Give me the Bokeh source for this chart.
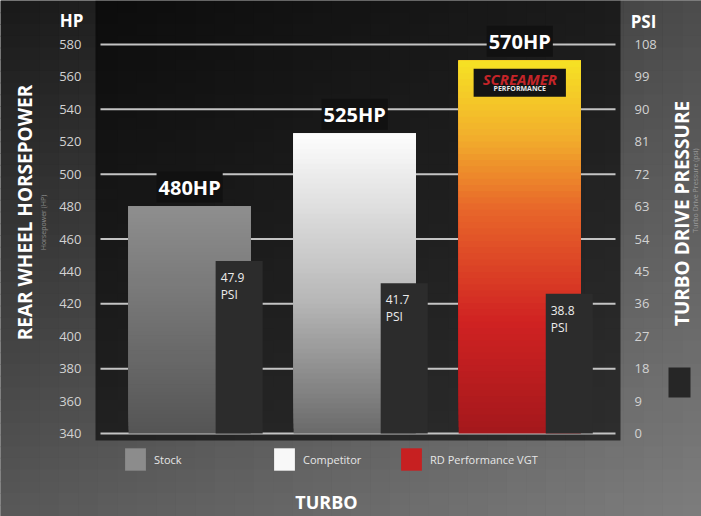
import numpy as np
from bokeh.plotting import figure
from bokeh.models import (Range1d, LinearAxis, FixedTicker, ColumnDataSource, BoxAnnotation,
                          Label, Legend, LegendItem)
from bokeh.core.properties import value
from bokeh.embed import file_html
from bokeh.resources import INLINE

# ---------------- data ----------------
categories = ["Stock", "Competitor", "RD Performance VGT"]
hp_values = [480, 525, 570]
psi_values = [47.9, 41.7, 38.8]
hp_ticks = [340, 360, 380, 400, 420, 440, 460, 480, 500, 520, 540, 560, 580]
psi_ticks = [0, 9, 18, 27, 36, 45, 54, 63, 72, 81, 90, 99, 108]
hp_grid_ticks = [340, 380, 420, 460, 500, 540, 580]

# ---------------- layout / style ----------------
W, H = 701, 516
# chart panel edges in canvas pixels
PL, PR, PT, PB = 100, 615, 44, 433
X_LO, X_HI = -0.54, 2.58           # x data at panel left / right
HP_LO, HP_HI = hp_ticks[0], hp_ticks[-1]
PSI_LO, PSI_HI = psi_ticks[0], psi_ticks[-1]
HP_W = 0.74
PSI_OFF = 0.30
PSI_W = 0.285
FONT = value("Open Sans")

# extend ranges so the frame covers the whole canvas
xs = (X_HI - X_LO) / (PR - PL)
x_range = Range1d(X_LO - PL * xs, X_HI + (W - PR) * xs)
hs = (HP_HI - HP_LO) / (PB - PT)
y_range = Range1d(HP_LO - (H - PB) * hs, HP_HI + PT * hs)
ps = (PSI_HI - PSI_LO) / (PB - PT)
psi_range = Range1d(PSI_LO - (H - PB) * ps, PSI_HI + PT * ps)


def sx(cx):
    return cx


def sy(cy):
    return H - cy


def hex2rgb(h):
    h = h.lstrip("#")
    return [int(h[i:i + 2], 16) for i in (0, 2, 4)]


def mix(stops, t):
    for (p0, c0), (p1, c1) in zip(stops[:-1], stops[1:]):
        if t <= p1:
            f = 0 if p1 == p0 else (t - p0) / (p1 - p0)
            a, b = hex2rgb(c0), hex2rgb(c1)
            return "#%02x%02x%02x" % tuple(int(round(a[i] + (b[i] - a[i]) * f)) for i in range(3))
    return stops[-1][1]


bar_stops = [
    [(0.0, "#555555"), (1.0, "#8e8e8e")],
    [(0.0, "#6a6a6a"), (0.45, "#b8b8b8"), (1.0, "#fdfdfd")],
    [(0.0, "#a4181c"), (0.3, "#d02222"), (0.6, "#e8662a"), (0.8, "#f2b02c"), (1.0, "#f6e224")],
]
legend_index_frac = [0.98, 0.98, 0.25]

p = figure(width=W, height=H, output_backend="svg", toolbar_location=None,
           x_range=x_range, y_range=y_range, min_border=0,
           x_axis_location=None, y_axis_location=None)
p.extra_y_ranges = {"psi": psi_range}
p.outline_line_color = None
p.background_fill_color = "#2c2c2c"
p.border_fill_color = "#2c2c2c"
p.xgrid.visible = False
p.ygrid.visible = False

# background gradient (vertical + horizontal lightening)
NB = 44
for i in range(NB):
    c0 = i * H / NB
    c1 = (i + 1) * H / NB + 1
    p.add_layout(BoxAnnotation(left=sx(0), right=sx(W), top=sy(c0), bottom=sy(c1),
                               left_units="screen", right_units="screen", top_units="screen",
                               bottom_units="screen",
                               fill_color=mix([(0, "#1a1a1a"), (1, "#585858")], i / (NB - 1)),
                               fill_alpha=1, line_color=None, level="image"))
NC = 36
for j in range(NC):
    x0 = j * W / NC
    x1 = (j + 1) * W / NC
    p.add_layout(BoxAnnotation(left=sx(x0), right=sx(x1), top=sy(0), bottom=sy(H),
                               left_units="screen", right_units="screen", top_units="screen",
                               bottom_units="screen", fill_color="white",
                               fill_alpha=0.22 * j / (NC - 1), line_color=None, level="image"))
# dark chart panel
p.add_layout(BoxAnnotation(left=sx(95), right=sx(620), top=sy(0), bottom=sy(440),
                           left_units="screen", right_units="screen", top_units="screen",
                           bottom_units="screen", fill_color="black", fill_alpha=0.6,
                           line_color=None, level="image"))

# axes, fixed at the chart panel edges
left_axis = LinearAxis(ticker=FixedTicker(ticks=hp_ticks), fixed_location=X_LO)
right_axis = LinearAxis(y_range_name="psi", ticker=FixedTicker(ticks=psi_ticks), fixed_location=X_HI)
p.add_layout(left_axis, "left")
p.add_layout(right_axis, "right")
for ax in (left_axis, right_axis):
    ax.axis_line_color = None
    ax.major_tick_line_color = None
    ax.minor_tick_line_color = None
    ax.major_label_text_color = "#d2d2d2"
    ax.major_label_text_font = "Open Sans"
    ax.major_label_text_font_size = "13px"
    ax.major_label_standoff = 13

# horizontal grid lines across the chart panel
p.segment(x0=X_LO, x1=X_HI, y0=hp_grid_ticks, y1=hp_grid_ticks,
          line_color="#c4c4c4", line_width=2)

# HP bars: vertical gradient from overlapping layers (each layer runs from its start up to the value)
N = 60
hp_renderers = []
for k, (cat, v) in enumerate(zip(categories, hp_values)):
    starts = np.linspace(HP_LO, v, N + 1)[:-1]
    t = (np.arange(N) + 0.5) / N
    cols = [mix(bar_stops[k], ti) for ti in t]
    src = ColumnDataSource(dict(left=[k - HP_W / 2] * N, right=[k + HP_W / 2] * N,
                                bottom=starts, top=[v] * N, color=cols))
    r = p.quad(left="left", right="right", bottom="bottom", top="top", source=src,
               fill_color="color", line_color=None)
    hp_renderers.append(r)

# PSI bars
idx = np.arange(len(categories))
psi_src = ColumnDataSource(dict(x=idx + PSI_OFF, top=psi_values,
                                lx=idx + PSI_OFF - PSI_W / 2,
                                label=[f"{v}\nPSI" for v in psi_values]))
p.vbar(x="x", top="top", bottom=0, width=PSI_W, source=psi_src, y_range_name="psi",
       fill_color="#2c2c2c", line_color=None)
p.text(x="lx", y="top", text="label", source=psi_src, y_range_name="psi",
       x_offset=5, y_offset=8, text_align="left", text_baseline="top",
       text_font=FONT, text_font_size="12px", text_color="#ececec", text_line_height=1.0)

# HP value labels
hp_src = ColumnDataSource(dict(x=idx, y=hp_values, label=[f"{v}HP" for v in hp_values]))
p.text(x="x", y="y", text="label", source=hp_src, y_offset=-4, text_align="center",
       text_baseline="bottom", text_font=FONT, text_font_style="bold", text_font_size="20px",
       text_color="white", background_fill_color="#111111", padding=2)

# brand logo on the RD bar
p.text(x=[idx[2]], y=[hp_values[2]], text=["SCREAMER"], y_offset=8, text_align="center",
       text_baseline="top", text_font=FONT, text_font_style="bold italic", text_font_size="15px",
       text_color="#c42428", background_fill_color="#141414", padding=[9, 9, 0, 8])
p.text(x=[idx[2]], y=[hp_values[2]], text=["PERFORMANCE"], y_offset=23, text_align="center",
       text_baseline="top", text_font=FONT, text_font_style="bold", text_font_size="7px",
       text_color="#e8e8e8")


# texts around the chart
def add_label(text, cx, cy, size, color="white", style="bold", angle=0.0):
    p.add_layout(Label(x=sx(cx), y=sy(cy), x_units="screen", y_units="screen", text=text,
                       text_align="center", text_baseline="middle", angle=angle,
                       text_font="Open Sans", text_font_style=style, text_font_size=size,
                       text_color=color))


add_label("HP", 71, 20, "17px")
add_label("PSI", 643, 21, "17px")
add_label("REAR WHEEL HORSEPOWER", 24, 212, "19px", angle=np.pi / 2)
add_label("Horsepower (HP)", 43, 222, "7px", color="#8c8c8c", style="normal", angle=np.pi / 2)
add_label("TURBO DRIVE PRESSURE", 681, 213, "19px", angle=np.pi / 2)
add_label("Turbo Drive Pressure (psi)", 695, 190, "7px", color="#9a9a9a", style="normal", angle=np.pi / 2)
add_label("TURBO", 326, 501, "18px")

# PSI swatch on right
p.add_layout(BoxAnnotation(left=sx(668), right=sx(690), top=sy(367), bottom=sy(397),
                           left_units="screen", right_units="screen", top_units="screen",
                           bottom_units="screen", fill_color="#262626", fill_alpha=1,
                           line_color=None))

# legends
legend_x = [122, 271, 398]
for k, (cat, r) in enumerate(zip(categories, hp_renderers)):
    leg = Legend(items=[LegendItem(label=cat, renderers=[r], index=int(legend_index_frac[k] * (N - 1)))],
                 location=(sx(legend_x[k]), sy(473)), orientation="horizontal",
                 glyph_width=26, glyph_height=28, label_standoff=6,
                 label_text_font="Open Sans", label_text_font_size="11px",
                 label_text_color="#e6e6e6", background_fill_alpha=0, border_line_color=None,
                 padding=0, margin=0)
    p.add_layout(leg)

open("out.html", "w").write(file_html(p, INLINE))
